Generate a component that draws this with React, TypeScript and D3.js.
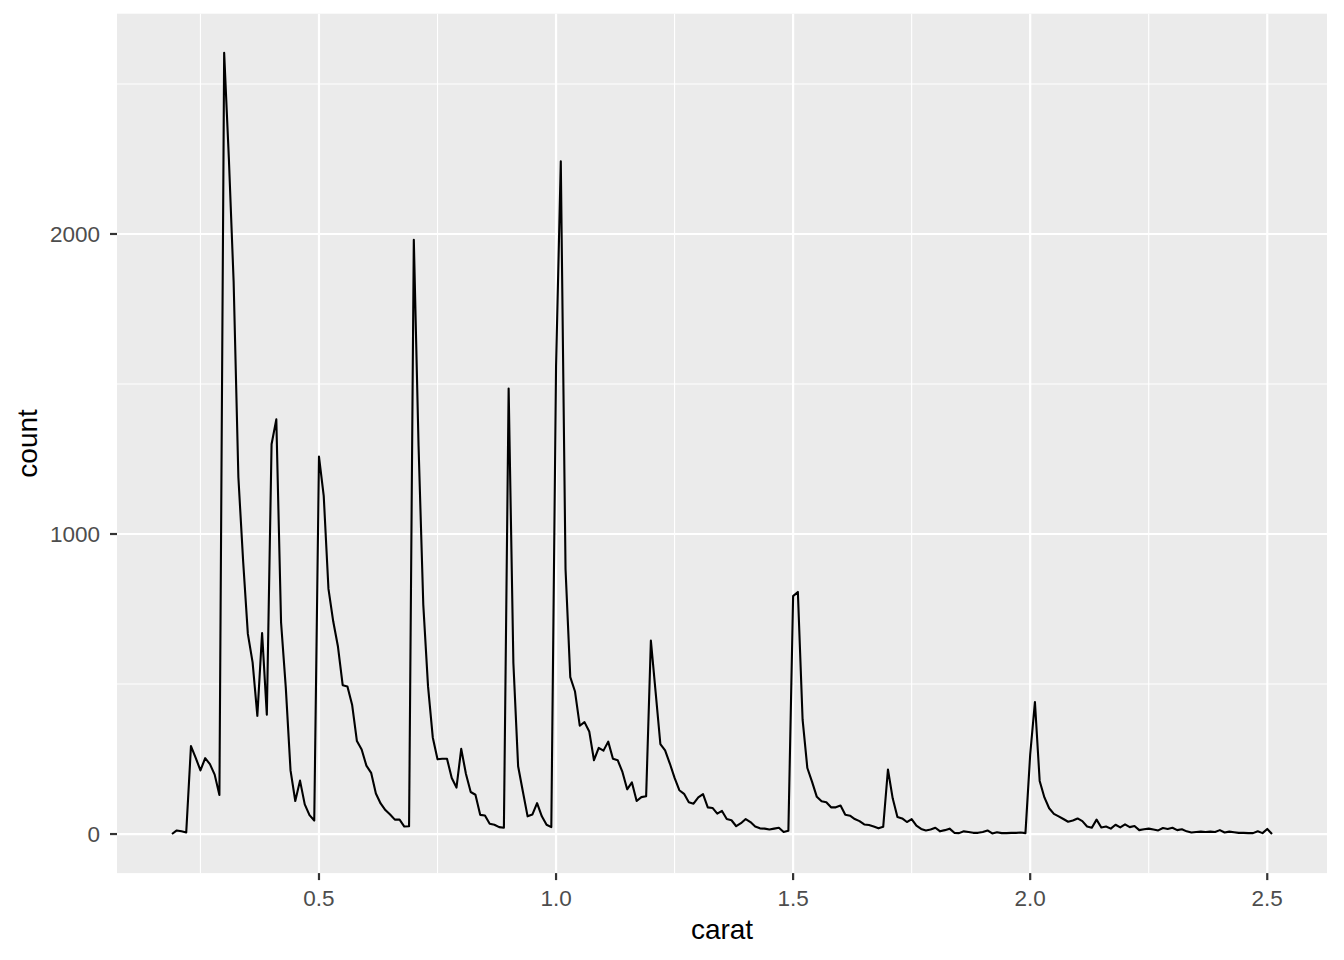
import * as d3 from "d3";

// bin grid of the frequency polygon (binwidth 0.01, padded with an empty bin at each end)
const binWidth = 0.01;
const firstBin = 0.19;

// counts per bin, 0.19 ... 2.51
const counts = [
  0,
  12, 9, 5, 293, 254, 212, 253, 233, 198, 130,
  2604, 2249, 1840, 1189, 910, 667, 572, 394, 670, 398,
  1299, 1382, 706, 488, 212, 110, 178, 99, 63, 45,
  1258, 1127, 817, 709, 625, 496, 492, 430, 310, 282,
  228, 204, 135, 102, 80, 65, 48, 48, 25, 26,
  1981, 1294, 764, 492, 322, 249, 251, 251, 187, 155,
  284, 200, 140, 131, 64, 62, 34, 31, 23, 21,
  1485, 570, 226, 142, 59, 65, 103, 59, 31, 23,
  1558, 2242, 883, 523, 475, 361, 373, 342, 246, 287,
  278, 308, 251, 246, 207, 149, 172, 110, 123, 126,
  645, 473, 300, 279, 235, 187, 146, 134, 106, 101,
  122, 133, 89, 87, 68, 77, 50, 46, 26, 36,
  50, 40, 25, 19, 18, 15, 18, 21, 7, 11,
  793, 807, 381, 220, 174, 124, 109, 106, 89, 89,
  95, 64, 61, 50, 43, 32, 30, 25, 19, 24,
  215, 119, 57, 52, 40, 50, 28, 17, 12, 15,
  21, 9, 13, 18, 4, 3, 9, 7, 4, 4,
  7, 12, 2, 6, 3, 3, 4, 4, 5, 3,
  265, 440, 177, 122, 86, 67, 59, 50, 41, 45,
  52, 43, 25, 21, 48, 22, 25, 18, 31, 22,
  32, 23, 27, 13, 16, 18, 15, 12, 20, 17,
  21, 13, 16, 9, 5, 7, 8, 7, 8, 7,
  13, 5, 8, 6, 4, 4, 3, 3, 9, 3,
  17, 0,
];

const xBreaks = [0.5, 1.0, 1.5, 2.0, 2.5];
const xLabels = ["0.5", "1.0", "1.5", "2.0", "2.5"];
const xMinor = [0.25, 0.75, 1.25, 1.75, 2.25];
const yBreaks = [0, 1000, 2000];
const yLabels = ["0", "1000", "2000"];
const yMinor = [500, 1500, 2500];

const W = 1344;
const H = 960;
const panel = { left: 117, right: 1327, top: 13.7, bottom: 873.1 };
const font = "'Liberation Sans', Arial, Helvetica, sans-serif";

export default function App() {
  const points = counts.map((c, i) => ({ carat: firstBin + i * binWidth, count: c }));

  // ggplot style 5% expansion on both axes
  const [x0, x1] = d3.extent(points, (d) => d.carat) as [number, number];
  const xPad = (x1 - x0) * 0.05;
  const yMax = d3.max(points, (d) => d.count) as number;
  const yPad = yMax * 0.05;

  const x = d3.scaleLinear().domain([x0 - xPad, x1 + xPad]).range([panel.left, panel.right]);
  const y = d3.scaleLinear().domain([-yPad, yMax + yPad]).range([panel.bottom, panel.top]);

  const line = d3
    .line<{ carat: number; count: number }>()
    .x((d) => x(d.carat))
    .y((d) => y(d.count));

  return (
    <svg
      width={W}
      height={H}
      style={{ position: "absolute", left: 0, top: 0, display: "block", background: "#fff" }}
      fontFamily={font}
    >
      <rect x={0} y={0} width={W} height={H} fill="#fff" />
      <rect
        x={panel.left}
        y={panel.top}
        width={panel.right - panel.left}
        height={panel.bottom - panel.top}
        fill="#EBEBEB"
      />

      {/* minor grid */}
      {xMinor.map((v) => (
        <line key={"xm" + v} x1={x(v)} x2={x(v)} y1={panel.top} y2={panel.bottom} stroke="#fff" strokeWidth={1.1} />
      ))}
      {yMinor.map((v) => (
        <line key={"ym" + v} x1={panel.left} x2={panel.right} y1={y(v)} y2={y(v)} stroke="#fff" strokeWidth={1.1} />
      ))}
      {/* major grid */}
      {xBreaks.map((v) => (
        <line key={"xM" + v} x1={x(v)} x2={x(v)} y1={panel.top} y2={panel.bottom} stroke="#fff" strokeWidth={2.2} />
      ))}
      {yBreaks.map((v) => (
        <line key={"yM" + v} x1={panel.left} x2={panel.right} y1={y(v)} y2={y(v)} stroke="#fff" strokeWidth={2.2} />
      ))}

      <path d={line(points) ?? ""} fill="none" stroke="#000" strokeWidth={2.1} strokeLinejoin="round" />

      {/* x axis */}
      {xBreaks.map((v, i) => (
        <g key={"xt" + v}>
          <line x1={x(v)} x2={x(v)} y1={panel.bottom} y2={panel.bottom + 7} stroke="#333" strokeWidth={2.2} />
          <text x={x(v)} y={905.5} textAnchor="middle" fontSize={22.5} fill="#4D4D4D">
            {xLabels[i]}
          </text>
        </g>
      ))}
      {/* y axis */}
      {yBreaks.map((v, i) => (
        <g key={"yt" + v}>
          <line x1={panel.left - 7} x2={panel.left} y1={y(v)} y2={y(v)} stroke="#333" strokeWidth={2.2} />
          <text x={100} y={y(v) + 8.2} textAnchor="end" fontSize={22.5} fill="#4D4D4D">
            {yLabels[i]}
          </text>
        </g>
      ))}

      <text x={(panel.left + panel.right) / 2} y={939} textAnchor="middle" fontSize={28} fill="#000">
        carat
      </text>
      <text
        transform={`translate(36.5, ${(panel.top + panel.bottom) / 2}) rotate(-90)`}
        textAnchor="middle"
        fontSize={28}
        fill="#000"
      >
        count
      </text>
    </svg>
  );
}
